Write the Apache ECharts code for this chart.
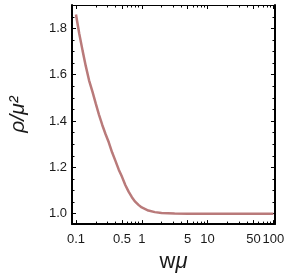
<!DOCTYPE html>
<html>
<head>
<meta charset="utf-8">
<script src="https://cdn.jsdelivr.net/npm/echarts@6/dist/echarts.min.js"></script>
<style>html,body{margin:0;padding:0;background:#fff;}#c{width:287px;height:278px;}</style>
</head>
<body>
<div id="c"></div>
<script>
const xValues = [0.1, 0.112, 0.126, 0.141, 0.158, 0.178, 0.2, 0.224, 0.251, 0.282, 0.316, 0.355, 0.398, 0.447, 0.501, 0.562, 0.631, 0.708, 0.794, 0.891, 1, 1.26, 1.58, 2, 3.16, 5, 10, 31.6, 100];
const yValues = [1.86, 1.778, 1.704, 1.637, 1.576, 1.527, 1.475, 1.427, 1.383, 1.343, 1.307, 1.264, 1.228, 1.19, 1.159, 1.124, 1.095, 1.071, 1.052, 1.038, 1.027, 1.0136, 1.0067, 1.003, 1.0005, 1.0, 1.0, 1.0, 1.0];
const xTickLabels = [0.1, 0.5, 1, 5, 10, 50, 100];
const xMinorTicks = [0.2, 0.3, 0.4, 0.6, 0.7, 0.8, 0.9, 2, 3, 4, 6, 7, 8, 9, 20, 30, 40, 60, 70, 80, 90];
const yTickLabels = [1.0, 1.2, 1.4, 1.6, 1.8];
const yMinorTicks = [1.05, 1.1, 1.15, 1.25, 1.3, 1.35, 1.45, 1.5, 1.55, 1.65, 1.7, 1.75, 1.85];

const X_MIN = 0.087, X_MAX = 106, Y_MIN = 0.955, Y_MAX = 1.901;
const FONT = 'Liberation Sans, Arial, sans-serif';
const labelFont = {fontFamily: FONT, fontSize: 13, color: '#1a1a1a'};

function xAx(pos, major, labels, lineW) {
  return {
    type: 'log', logBase: 10, min: X_MIN, max: X_MAX, position: pos,
    axisLine: {show: lineW > 0, onZero: false, lineStyle: {color: '#000', width: lineW}},
    axisTick: {show: true, inside: true, length: major ? 4 : 2.5, customValues: major ? xTickLabels : xMinorTicks, lineStyle: {color: '#000', width: 1}},
    axisLabel: labels ? Object.assign({show: true, margin: 9, customValues: xTickLabels, formatter: v => String(+(+v).toPrecision(6))}, labelFont) : {show: false},
    splitLine: {show: false}, minorTick: {show: false}
  };
}
function yAx(pos, major, labels, lineW) {
  return {
    type: 'value', min: Y_MIN, max: Y_MAX, position: pos,
    axisLine: {show: lineW > 0, onZero: false, lineStyle: {color: '#000', width: lineW}},
    axisTick: {show: true, inside: true, length: major ? 4 : 2.5, customValues: major ? yTickLabels : yMinorTicks, lineStyle: {color: '#000', width: 1}},
    axisLabel: labels ? Object.assign({show: true, margin: 5, customValues: yTickLabels, formatter: v => (+v).toFixed(1)}, labelFont) : {show: false},
    splitLine: {show: false}
  };
}

const xAxes = [xAx('bottom', true, true, 2), xAx('bottom', false, false, 0), xAx('top', true, false, 1), xAx('top', false, false, 0)];
xAxes[0].name = '{a|w}{b|μ}';
xAxes[0].nameLocation = 'middle';
xAxes[0].nameGap = 18;
xAxes[0].nameTextStyle = {rich: {a: {fontFamily: FONT, fontSize: 22, color: '#1a1a1a'}, b: {fontFamily: FONT, fontSize: 22, fontStyle: 'italic', color: '#1a1a1a'}}};
const yAxes = [yAx('left', true, true, 2), yAx('left', false, false, 0), yAx('right', true, false, 2), yAx('right', false, false, 0)];
yAxes[0].name = 'ρ/μ²';
yAxes[0].nameLocation = 'middle';
yAxes[0].nameGap = 43;
yAxes[0].nameRotate = 90;
yAxes[0].nameTextStyle = {fontFamily: FONT, fontSize: 21, fontStyle: 'italic', color: '#1a1a1a'};

const chart = echarts.init(document.getElementById('c'), null, {renderer: 'canvas'});
chart.setOption({
  animation: false,
  backgroundColor: '#fff',
  grid: {left: 53, top: 5, right: 10, bottom: 48, containLabel: false},
  xAxis: xAxes,
  yAxis: yAxes,
  series: [{
    type: 'line', xAxisIndex: 0, yAxisIndex: 0,
    data: xValues.map((x, i) => [x, yValues[i]]),
    smooth: false, showSymbol: false, symbol: 'none',
    lineStyle: {color: '#b97a7a', width: 2.5}
  }]
});
</script>
</body>
</html>
